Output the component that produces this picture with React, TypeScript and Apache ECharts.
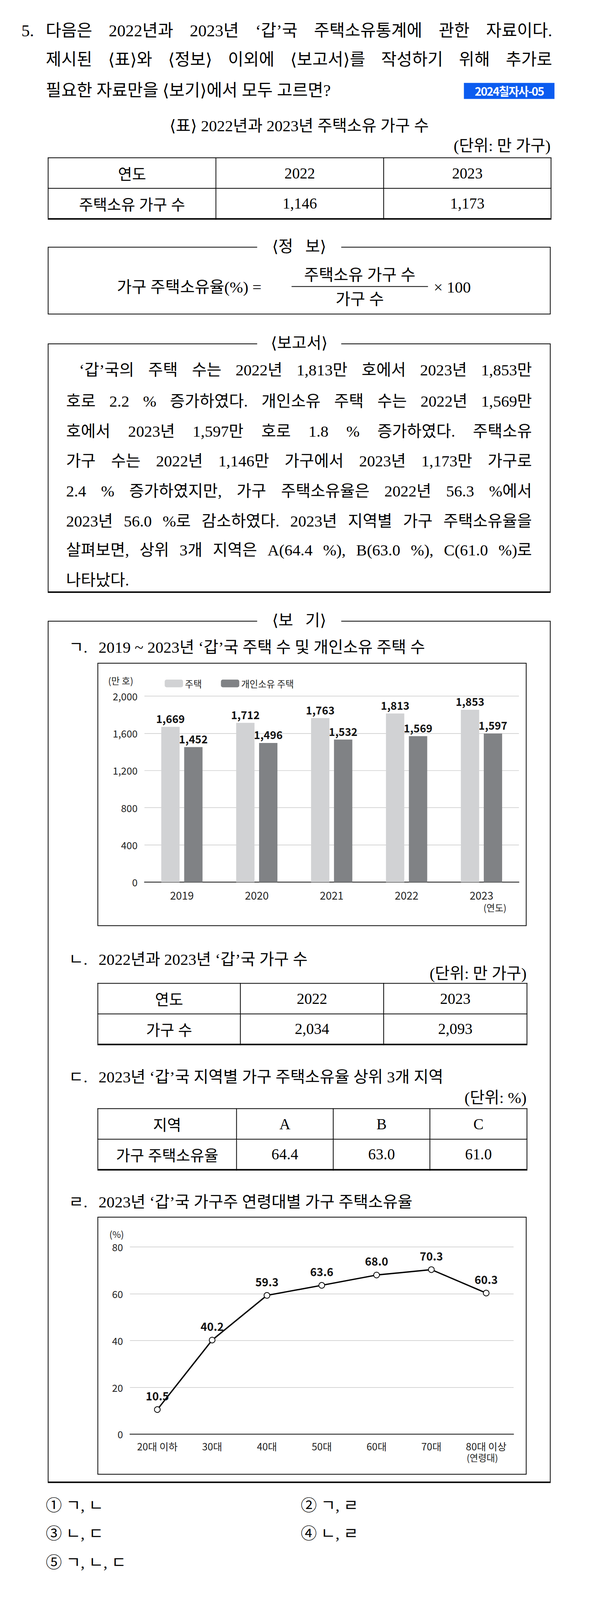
import React, { useEffect, useRef } from "react";
import * as echarts from "echarts";

const years = ["2019", "2020", "2021", "2022", "2023"];
const houses = [1669, 1712, 1763, 1813, 1853];
const ownedHouses = [1452, 1496, 1532, 1569, 1597];

const ageGroups = ["20대 이하", "30대", "40대", "50대", "60대", "70대", "80대 이상"];
const ownRates = [10.5, 40.2, 59.3, 63.6, 68.0, 70.3, 60.3];

const TEXT_FONT = '"Liberation Serif", "DejaVu Serif", "Noto Sans CJK KR", serif';
const CHART_FONT = '"Noto Sans CJK KR", "Noto Sans", sans-serif';

const Txt: React.FC<{
  x: number;
  y: number;
  w?: number;
  size?: number;
  justify?: boolean;
  align?: "left" | "center" | "right";
  style?: React.CSSProperties;
  children: React.ReactNode;
}> = ({ x, y, w, size = 42, justify, align = "left", style, children }) => (
  <div
    style={{
      position: "absolute",
      left: x,
      top: y - size * 0.65,
      width: w,
      fontSize: size,
      lineHeight: `${size * 1.3}px`,
      whiteSpace: "nowrap",
      textAlign: justify ? "justify" : align,
      textAlignLast: justify ? "justify" : align,
      ...style
    }}
  >
    {children}
  </div>
);

const Box: React.FC<{ x: number; y: number; w: number; h: number; thickBottom?: boolean }> = ({ x, y, w, h, thickBottom }) => (
  <div
    style={{
      position: "absolute",
      left: x,
      top: y,
      width: w,
      height: h,
      boxSizing: "border-box",
      border: "2px solid #000",
      borderBottomWidth: thickBottom ? 4 : 2
    }}
  />
);

const Label: React.FC<{ cx: number; y: number; text: string }> = ({ cx, y, text }) => (
  <div
    style={{
      position: "absolute",
      left: cx - 110,
      width: 220,
      top: y - 28,
      fontSize: 42,
      lineHeight: "54px",
      textAlign: "center",
      background: "#fff",
      whiteSpace: "pre"
    }}
  >
    {text}
  </div>
);

const Table: React.FC<{ x: number; y: number; cols: number[]; rows: number[]; cells: string[][] }> = ({ x, y, cols, rows, cells }) => (
  <table
    style={{
      position: "absolute",
      left: x,
      top: y,
      borderCollapse: "collapse",
      tableLayout: "fixed",
      fontSize: 40,
      borderTop: "2px solid #000",
      borderBottom: "4px solid #000"
    }}
  >
    <colgroup>
      {cols.map((c, i) => (
        <col key={i} style={{ width: c }} />
      ))}
    </colgroup>
    <tbody>
      {cells.map((r, i) => (
        <tr key={i} style={{ height: rows[i] }}>
          {r.map((c, j) => (
            <td key={j} style={{ border: "2px solid #000", textAlign: "center", padding: 0 }}>
              {c}
            </td>
          ))}
        </tr>
      ))}
    </tbody>
  </table>
);

const HouseChart: React.FC = () => {
  const ref = useRef<HTMLDivElement>(null);
  useEffect(() => {
    const chart = echarts.init(ref.current!, undefined, { renderer: "svg" });
    const label = {
      show: true,
      position: "top" as const,
      distance: 8,
      fontFamily: CHART_FONT,
      fontWeight: "bold" as const,
      fontSize: 28,
      color: "#111",
      formatter: (p: any) => p.value.toLocaleString("en-US")
    };
    chart.setOption({
      animation: false,
      textStyle: { fontFamily: CHART_FONT },
      grid: { left: 121, right: 18, top: 85, bottom: 113 },
      legend: {
        left: 169,
        top: 35,
        itemWidth: 48,
        itemHeight: 20,
        itemGap: 50,
        textStyle: { fontSize: 24, color: "#222", fontFamily: CHART_FONT },
        data: ["주택", "개인소유 주택"]
      },
      graphic: [
        { type: "text", left: 26, top: 32, style: { text: "(만 호)", fontSize: 24, fill: "#222", fontFamily: CHART_FONT } },
        { type: "text", left: 1008, top: 626, style: { text: "(연도)", fontSize: 24, fill: "#222", fontFamily: CHART_FONT } }
      ],
      xAxis: {
        type: "category",
        data: years,
        axisTick: { show: false },
        axisLine: { lineStyle: { color: "#111", width: 2 } },
        axisLabel: { fontSize: 28, color: "#222", margin: 20 }
      },
      yAxis: {
        type: "value",
        min: 0,
        max: 2000,
        interval: 400,
        axisLabel: { fontSize: 26, color: "#222", margin: 18, formatter: (v: number) => v.toLocaleString("en-US") },
        splitLine: { lineStyle: { color: "#c8c8c8", width: 1.5 } }
      },
      series: [
        { name: "주택", type: "bar", data: houses, barWidth: 48, barGap: "25%", itemStyle: { color: "#d1d2d4" }, label },
        { name: "개인소유 주택", type: "bar", data: ownedHouses, barWidth: 48, itemStyle: { color: "#808285" }, label }
      ]
    });
    return () => chart.dispose();
  }, []);
  return <div ref={ref} style={{ position: "absolute", left: 257, top: 1737, width: 1119, height: 685 }} />;
};

const RateChart: React.FC = () => {
  const ref = useRef<HTMLDivElement>(null);
  useEffect(() => {
    const chart = echarts.init(ref.current!, undefined, { renderer: "svg" });
    chart.setOption({
      animation: false,
      textStyle: { fontFamily: CHART_FONT },
      grid: { left: 83, right: 32, top: 77, bottom: 104 },
      graphic: [
        { type: "text", left: 29, top: 31, style: { text: "(%)", fontSize: 24, fill: "#222", fontFamily: CHART_FONT } },
        { type: "text", left: 964, top: 616, style: { text: "(연령대)", fontSize: 24, fill: "#222", fontFamily: CHART_FONT } }
      ],
      xAxis: {
        type: "category",
        data: ageGroups,
        axisTick: { show: false },
        axisLine: { lineStyle: { color: "#111", width: 2 } },
        axisLabel: { fontSize: 26, color: "#222", margin: 18 }
      },
      yAxis: {
        type: "value",
        min: 0,
        max: 80,
        interval: 20,
        axisLabel: { fontSize: 26, color: "#222", margin: 18 },
        splitLine: { lineStyle: { color: "#c8c8c8", width: 1.5 } }
      },
      series: [
        {
          type: "line",
          data: ownRates,
          symbol: "emptyCircle",
          symbolSize: 15,
          lineStyle: { color: "#000", width: 3.5 },
          itemStyle: { color: "#000", borderWidth: 3 },
          label: {
            show: true,
            position: "top",
            distance: 14,
            fontWeight: "bold",
            fontSize: 29,
            color: "#111",
            formatter: (p: any) => p.value.toFixed(1)
          }
        }
      ]
    });
    return () => chart.dispose();
  }, []);
  return <div ref={ref} style={{ position: "absolute", left: 257, top: 3187, width: 1119, height: 671 }} />;
};

const reportLines = [
  "‘갑’국의 주택 수는 2022년 1,813만 호에서 2023년 1,853만",
  "호로 2.2 % 증가하였다. 개인소유 주택 수는 2022년 1,569만",
  "호에서 2023년 1,597만 호로 1.8 % 증가하였다. 주택소유",
  "가구 수는 2022년 1,146만 가구에서 2023년 1,173만 가구로",
  "2.4 % 증가하였지만, 가구 주택소유율은 2022년 56.3 %에서",
  "2023년 56.0 %로 감소하였다. 2023년 지역별 가구 주택소유율을",
  "살펴보면, 상위 3개 지역은 A(64.4 %), B(63.0 %), C(61.0 %)로"
];
const reportY = [969, 1050, 1129, 1207, 1286, 1364, 1440];

export default function App() {
  return (
    <div style={{ position: "relative", width: 1510, height: 4194, margin: -8, background: "#fff", overflow: "hidden" }}>
      <div style={{ position: "absolute", left: 0, top: 0, width: 1510, height: 4194, transform: "scale(0.978)", transformOrigin: "0 0", fontFamily: TEXT_FONT, color: "#000" }}>
        <Txt x={56} y={81} size={44}>5.</Txt>
        <Txt x={120} y={81} w={1325} size={44} justify>다음은 2022년과 2023년 ‘갑’국 주택소유통계에 관한 자료이다.</Txt>
        <Txt x={120} y={157} w={1325} size={44} justify>제시된 ⟨표⟩와 ⟨정보⟩ 이외에 ⟨보고서⟩를 작성하기 위해 추가로</Txt>
        <Txt x={120} y={238} size={44}>필요한 자료만을 ⟨보기⟩에서 모두 고르면?</Txt>
        <div style={{ position: "absolute", left: 1214, top: 217, width: 237, height: 42, background: "#0b5cf0", color: "#fff", fontFamily: CHART_FONT, fontWeight: "bold", fontSize: 30, lineHeight: "42px", textAlign: "center", letterSpacing: -2 }}>
          2024칠자사-05
        </div>

        <Txt x={125} y={330} w={1316} align="center">⟨표⟩ 2022년과 2023년 주택소유 가구 수</Txt>
        <Txt x={1041} y={382} w={400} align="right">(단위: 만 가구)</Txt>
        <Table x={125} y={412} cols={[439, 439, 438]} rows={[80, 80]} cells={[["연도", "2022", "2023"], ["주택소유 가구 수", "1,146", "1,173"]]} />

        <Box x={125} y={646} w={1316} h={177} />
        <Label cx={783} y={646} text="⟨정   보⟩" />
        <Txt x={306} y={752}>가구 주택소유율(%) =</Txt>
        <Txt x={763} y={720} w={357} align="center">주택소유 가구 수</Txt>
        <div style={{ position: "absolute", left: 763, top: 749, width: 357, height: 2, background: "#000" }} />
        <Txt x={763} y={784} w={357} align="center">가구 수</Txt>
        <Txt x={1135} y={752}>× 100</Txt>

        <Box x={125} y={899} w={1316} h={653} thickBottom />
        <Label cx={783} y={899} text="⟨보고서⟩" />
        {reportLines.map((l, i) => (
          <Txt key={i} x={i === 0 ? 207 : 173} y={reportY[i]} w={i === 0 ? 1185 : 1219} justify>
            {l}
          </Txt>
        ))}
        <Txt x={173} y={1519}>나타났다.</Txt>

        <Box x={125} y={1625} w={1316} h={2257} thickBottom />
        <Label cx={783} y={1625} text="⟨보   기⟩" />

        <Txt x={180} y={1695}>ㄱ.</Txt>
        <Txt x={258} y={1695}>2019 ~ 2023년 ‘갑’국 주택 수 및 개인소유 주택 수</Txt>
        <div style={{ position: "absolute", left: 255, top: 1735, width: 1123, height: 689, border: "2px solid #000", boxSizing: "border-box" }} />
        <HouseChart />

        <Txt x={180} y={2512}>ㄴ.</Txt>
        <Txt x={258} y={2512}>2022년과 2023년 ‘갑’국 가구 수</Txt>
        <Txt x={978} y={2548} w={400} align="right">(단위: 만 가구)</Txt>
        <Table x={255} y={2573} cols={[373, 375, 375]} rows={[80, 80]} cells={[["연도", "2022", "2023"], ["가구 수", "2,034", "2,093"]]} />

        <Txt x={180} y={2819}>ㄷ.</Txt>
        <Txt x={258} y={2819}>2023년 ‘갑’국 지역별 가구 주택소유율 상위 3개 지역</Txt>
        <Txt x={978} y={2874} w={400} align="right">(단위: %)</Txt>
        <Table x={255} y={2901} cols={[363, 253, 253, 254]} rows={[80, 80]} cells={[["지역", "A", "B", "C"], ["가구 주택소유율", "64.4", "63.0", "61.0"]]} />

        <Txt x={180} y={3147}>ㄹ.</Txt>
        <Txt x={258} y={3147}>2023년 ‘갑’국 가구주 연령대별 가구 주택소유율</Txt>
        <div style={{ position: "absolute", left: 255, top: 3185, width: 1123, height: 675, border: "2px solid #000", boxSizing: "border-box" }} />
        <RateChart />

        <Txt x={120} y={3941}>① ㄱ, ㄴ</Txt>
        <Txt x={787} y={3941}>② ㄱ, ㄹ</Txt>
        <Txt x={120} y={4015}>③ ㄴ, ㄷ</Txt>
        <Txt x={787} y={4015}>④ ㄴ, ㄹ</Txt>
        <Txt x={120} y={4090}>⑤ ㄱ, ㄴ, ㄷ</Txt>
      </div>
    </div>
  );
}
